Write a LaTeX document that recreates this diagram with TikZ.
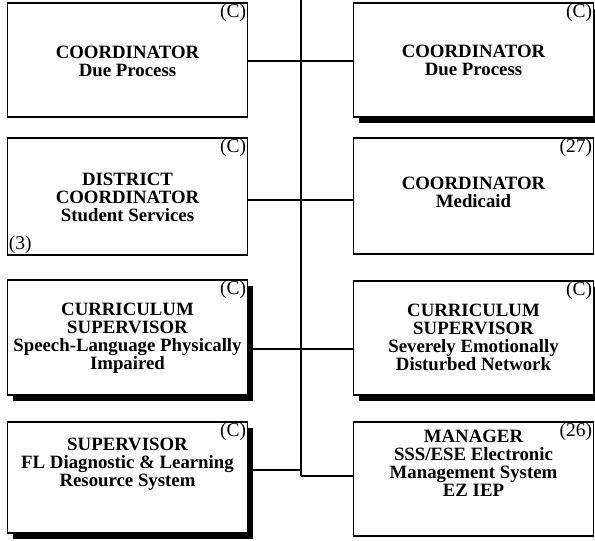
\documentclass[tikz,border=0pt]{standalone}
\usepackage{fontspec}
\setmainfont{Liberation Serif}
\usetikzlibrary{calc,shadows}

\begin{document}
\begin{tikzpicture}[x=1pt,y=1pt,
	box/.style={draw,line width=1.2pt,fill=white,minimum width=240pt,minimum height=#1,inner sep=0pt},
	shaded/.style={drop shadow={shadow xshift=5.5pt,shadow yshift=-5.5pt,fill=black,opacity=1}},
	title/.style={font=\bfseries\fontsize{18.8}{18}\selectfont,align=center,inner sep=0pt},
	tag/.style={font=\fontsize{19.5}{19.5}\selectfont,inner sep=1.8pt},
	wire/.style={line width=1.2pt}]
	\useasboundingbox (0,0) rectangle (595,-541);
	
	% spine
	\coordinate (top) at (301,0);
	\coordinate (s1) at (301,-61);
	\coordinate (s2) at (301,-200);
	\coordinate (s3) at (301,-349);
	\coordinate (s4l) at (301,-470);
	\coordinate (s4r) at (301,-476);
	\draw[wire](top)--(s4r);
	
	% boxes
	\node[box=114, label={[tag,anchor=north east]north east:(C)}] (l1) at (127.5,-60) {};
	\node[box=114, shaded, label={[tag,anchor=north east]north east:(C)}] (r1) at (473.5,-60) {};
	\node[box=117, label={[tag,anchor=north east]north east:(C)}, label={[tag,anchor=south west]south west:(3)}] (l2) at (127.5,-196.5) {};
	\node[box=116, label={[tag,anchor=north east]north east:(27)}] (r2) at (473.5,-196) {};
	\node[box=115, shaded, label={[tag,anchor=north east]north east:(C)}] (l3) at (127.5,-337.5) {};
	\node[box=114, shaded, label={[tag,anchor=north east]north east:(C)}] (r3) at (473.5,-338) {};
	\node[box=111, shaded, label={[tag,anchor=north east]north east:(C)}] (l4) at (127.5,-477.5) {};
	\node[box=114, label={[tag,anchor=north east]north east:(26)}] (r4) at (473.5,-479) {};
	
	\node[title] (l1txt) at (127.5,-61) {COORDINATOR\\Due Process};
	\node[title] (r1txt) at (473.5,-60) {COORDINATOR\\Due Process};
	\node[title] (l2txt) at (127.5,-197) {DISTRICT\\COORDINATOR\\Student Services};
	\node[title] (r2txt) at (473.5,-192) {COORDINATOR\\Medicaid};
	\node[title] (l3txt) at (127.5,-338) {CURRICULUM\\SUPERVISOR\\Speech-Language Physically\\Impaired};
	\node[title] (r3txt) at (473.5,-337) {CURRICULUM\\SUPERVISOR\\Severely Emotionally\\Disturbed Network};
	\node[title] (l4txt) at (127.5,-464) {SUPERVISOR\\FL Diagnostic \& Learning\\Resource System};
	\node[title] (r4txt) at (473.5,-463) {MANAGER\\SSS/ESE Electronic\\Management System\\EZ IEP};
	
	% connectors
	\draw[wire](l1.east |- s1)--(r1.west |- s1);
	\draw[wire](l2.east |- s2)--(r2.west |- s2);
	\draw[wire](l3.east |- s3)--(r3.west |- s3);
	\draw[wire](l4.east |- s4l)--(s4l);
	\draw[wire](s4r)--(r4.west |- s4r);
\end{tikzpicture}
\end{document}
